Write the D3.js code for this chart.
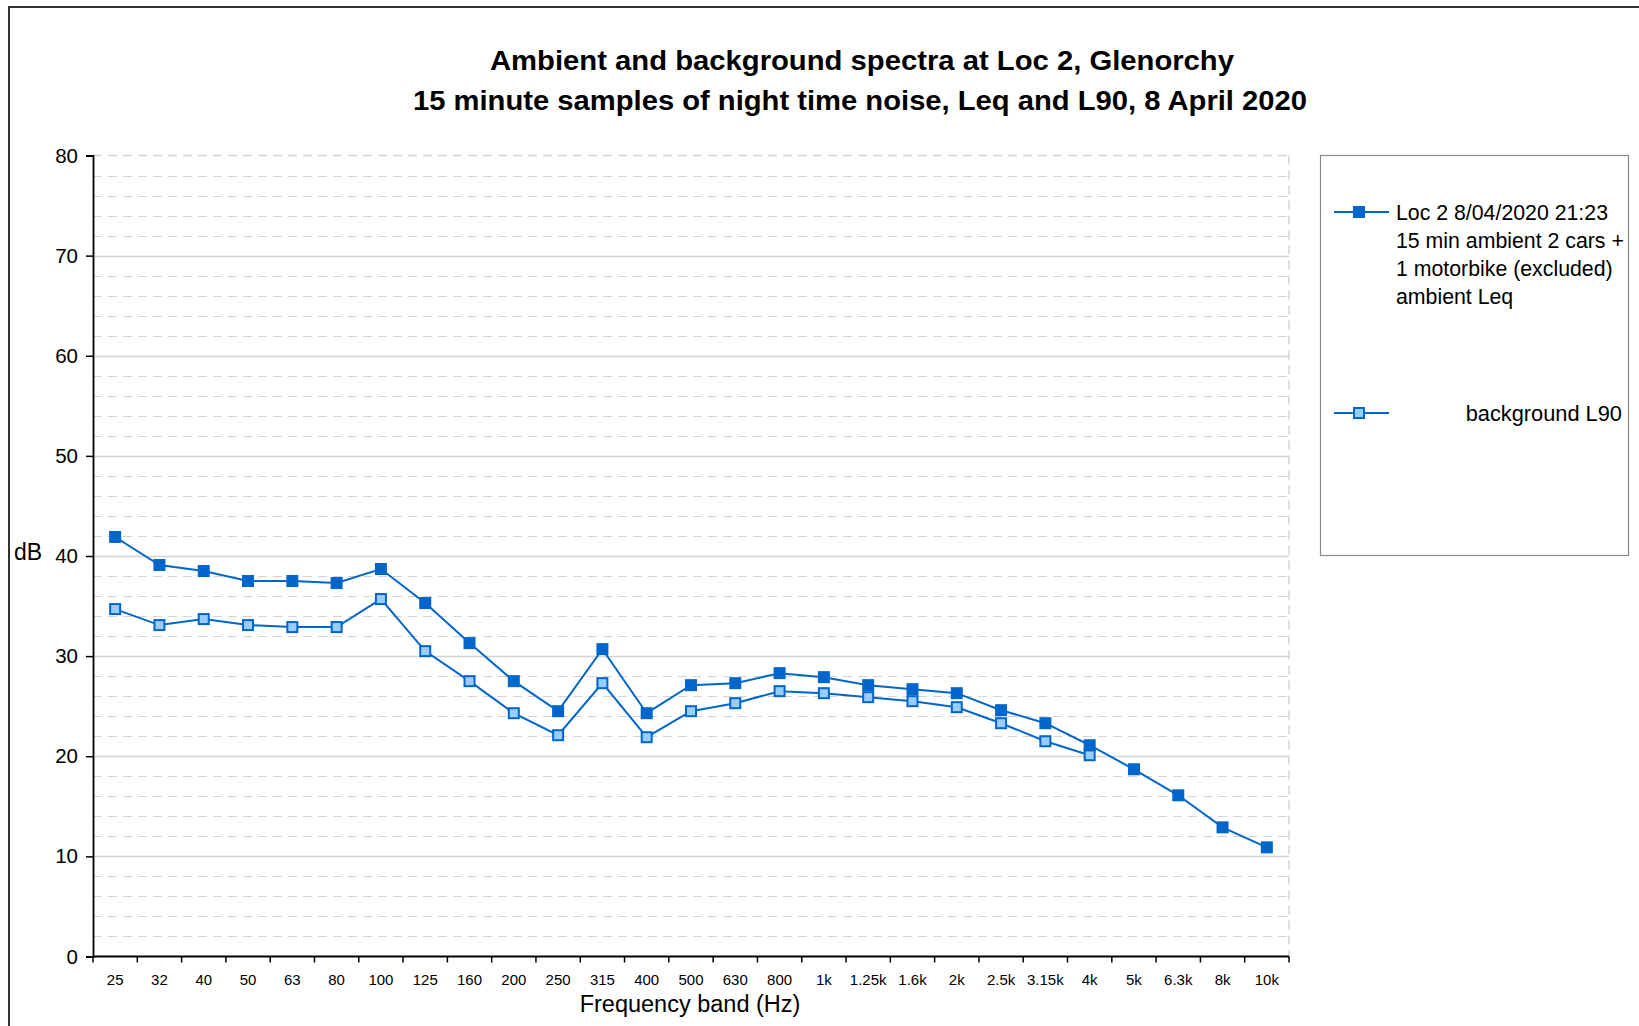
<!DOCTYPE html>
<html>
<head>
<meta charset="utf-8">
<script src="https://cdn.jsdelivr.net/npm/d3@7"></script>
<style>
  html, body { margin: 0; padding: 0; background: #fff; }
  svg { display: block; font-family: "Liberation Sans", Arial, Helvetica, sans-serif; }
</style>
</head>
<body>
<svg id="chart" width="1639" height="1026"></svg>
<script>
// Third-octave frequency bands (Hz)
const bands = ["25","32","40","50","63","80","100","125","160","200","250","315","400","500","630","800","1k","1.25k","1.6k","2k","2.5k","3.15k","4k","5k","6.3k","8k","10k"];

// 15 min ambient Leq, dB
const leq = [41.9, 39.1, 38.5, 37.5, 37.5, 37.3, 38.7, 35.3, 31.3, 27.5, 24.5, 30.7, 24.3, 27.1, 27.3, 28.3, 27.9, 27.1, 26.7, 26.3, 24.6, 23.3, 21.1, 18.7, 16.1, 12.9, 10.9];

// Background L90, dB (no data above 4 kHz)
const l90 = [34.7, 33.1, 33.7, 33.1, 32.9, 32.9, 35.7, 30.5, 27.5, 24.3, 22.1, 27.3, 21.9, 24.5, 25.3, 26.5, 26.3, 25.9, 25.5, 24.9, 23.3, 21.5, 20.1, null, null, null, null];

const yTicks = [0, 10, 20, 30, 40, 50, 60, 70, 80];
const yMinor = d3.range(2, 80, 2).filter(v => v % 10 !== 0);

const titleLines = [
  "Ambient and background spectra at Loc 2, Glenorchy",
  "15 minute samples of night time noise, Leq and L90, 8 April 2020"
];
const leqLabel = ["Loc 2 8/04/2020 21:23", "15 min ambient 2 cars +", "1 motorbike (excluded)", "ambient Leq"];
const l90Label = "background L90";

const blue = "#0066cc";
const lightBlue = "#99ccff";
const gridCol = "#d4d4d4";

const svg = d3.select("#chart");
svg.append("rect").attr("width", 1639).attr("height", 1026).attr("fill", "#fff");

// outer frame
svg.append("path")
  .attr("d", "M9,1026 V7 H1639")
  .attr("fill", "none").attr("stroke", "#333").attr("stroke-width", 2);

const plotL = 93, plotR = 1289, plotT = 155.5, plotB = 956.5;

const x = d3.scaleBand().domain(bands).range([plotL, plotR]).padding(0);
const y = d3.scaleLinear().domain([0, 80]).range([plotB, plotT]);
const cx = d => x(d) + x.bandwidth() / 2;

// gridlines
const grid = svg.append("g");
grid.selectAll("line.minor").data(yMinor).join("line")
  .attr("class", "minor")
  .attr("x1", plotL).attr("x2", plotR)
  .attr("y1", d => Math.round(y(d)) + 0.5).attr("y2", d => Math.round(y(d)) + 0.5)
  .attr("stroke", gridCol).attr("stroke-width", 1.2).attr("stroke-dasharray", "9,6");
grid.selectAll("line.major").data(yTicks.filter(v => v > 0 && v < 80)).join("line")
  .attr("class", "major")
  .attr("x1", plotL).attr("x2", plotR)
  .attr("y1", d => Math.round(y(d)) + 0.5).attr("y2", d => Math.round(y(d)) + 0.5)
  .attr("stroke", gridCol).attr("stroke-width", 1.5);
// dashed top and right edges of the plot area
grid.append("line").attr("x1", plotL).attr("x2", plotR).attr("y1", y(80)).attr("y2", y(80))
  .attr("stroke", gridCol).attr("stroke-width", 1.5).attr("stroke-dasharray", "9,6");
grid.append("line").attr("x1", plotR).attr("x2", plotR).attr("y1", y(80)).attr("y2", plotB)
  .attr("stroke", gridCol).attr("stroke-width", 1.5).attr("stroke-dasharray", "9,6");

// y axis
const yAxis = svg.append("g")
  .attr("transform", `translate(${plotL},0)`)
  .call(d3.axisLeft(y).tickValues(yTicks).tickSize(7).tickPadding(8).tickFormat(d3.format("d")));
yAxis.select(".domain").attr("stroke", "#000").attr("stroke-width", 1.8);
yAxis.selectAll(".tick line").attr("stroke", "#000").attr("stroke-width", 1.5);
yAxis.selectAll(".tick text").attr("font-size", 20.5).attr("fill", "#000")
  .attr("font-family", "Liberation Sans, Arial, sans-serif");

// x axis: ticks on band boundaries, labels centred in each band
const xAxis = svg.append("g").attr("transform", `translate(0,${plotB})`);
xAxis.append("line").attr("x1", plotL).attr("x2", plotR).attr("stroke", "#000").attr("stroke-width", 1.8);
const bounds = bands.map(b => x(b)).concat([plotR]);
xAxis.selectAll("line.tick").data(bounds).join("line")
  .attr("class", "tick")
  .attr("x1", d => d).attr("x2", d => d).attr("y1", 0).attr("y2", 6)
  .attr("stroke", "#000").attr("stroke-width", 1.5);
xAxis.selectAll("text").data(bands).join("text")
  .attr("x", d => cx(d)).attr("y", 28)
  .attr("text-anchor", "middle").attr("font-size", 15).attr("fill", "#000")
  .text(d => d);

// axis titles
svg.append("text").attr("x", 690).attr("y", 1012).attr("text-anchor", "middle")
  .attr("font-size", 23.5).attr("fill", "#000").text("Frequency band (Hz)");
svg.append("text").attr("x", 14).attr("y", 560)
  .attr("font-size", 23).attr("fill", "#000").text("dB");

// title
svg.append("text").attr("x", 862).attr("y", 70).attr("text-anchor", "middle")
  .attr("font-size", 27).attr("font-weight", "bold").attr("fill", "#000")
  .attr("textLength", 744).attr("lengthAdjust", "spacingAndGlyphs").text(titleLines[0]);
svg.append("text").attr("x", 860).attr("y", 110).attr("text-anchor", "middle")
  .attr("font-size", 27).attr("font-weight", "bold").attr("fill", "#000")
  .attr("textLength", 894).attr("lengthAdjust", "spacingAndGlyphs").text(titleLines[1]);

// series lines
const line = d3.line()
  .defined(d => d.v != null)
  .x(d => cx(d.b)).y(d => y(d.v));
const leqPts = bands.map((b, i) => ({ b, v: leq[i] }));
const l90Pts = bands.map((b, i) => ({ b, v: l90[i] })).filter(d => d.v != null);

svg.append("path").datum(l90Pts).attr("d", line)
  .attr("fill", "none").attr("stroke", blue).attr("stroke-width", 2);
svg.append("path").datum(leqPts).attr("d", line)
  .attr("fill", "none").attr("stroke", blue).attr("stroke-width", 2);

// markers
const ms = 12;
svg.append("g").selectAll("rect").data(l90Pts).join("rect")
  .attr("x", d => cx(d.b) - (ms - 2) / 2).attr("y", d => y(d.v) - (ms - 2) / 2)
  .attr("width", ms - 2).attr("height", ms - 2)
  .attr("fill", lightBlue).attr("stroke", blue).attr("stroke-width", 2);
svg.append("g").selectAll("rect").data(leqPts).join("rect")
  .attr("x", d => cx(d.b) - ms / 2).attr("y", d => y(d.v) - ms / 2)
  .attr("width", ms).attr("height", ms)
  .attr("fill", blue);

// legend
const lg = svg.append("g");
lg.append("rect").attr("x", 1320.5).attr("y", 155.5).attr("width", 308).attr("height", 400)
  .attr("fill", "#fff").attr("stroke", "#888").attr("stroke-width", 1.2);
lg.append("line").attr("x1", 1334).attr("x2", 1389).attr("y1", 212).attr("y2", 212)
  .attr("stroke", blue).attr("stroke-width", 2);
lg.append("rect").attr("x", 1359 - ms / 2).attr("y", 212 - ms / 2).attr("width", ms).attr("height", ms)
  .attr("fill", blue);
lg.selectAll("text.leq").data(leqLabel).join("text")
  .attr("class", "leq")
  .attr("x", 1396).attr("y", (d, i) => 219.5 + i * 28)
  .attr("font-size", 21.3).attr("fill", "#000").text(d => d);
lg.append("line").attr("x1", 1334).attr("x2", 1389).attr("y1", 413).attr("y2", 413)
  .attr("stroke", blue).attr("stroke-width", 2);
lg.append("rect").attr("x", 1359 - (ms - 2) / 2).attr("y", 413 - (ms - 2) / 2)
  .attr("width", ms - 2).attr("height", ms - 2)
  .attr("fill", lightBlue).attr("stroke", blue).attr("stroke-width", 2);
lg.append("text").attr("x", 1622).attr("y", 420.5).attr("text-anchor", "end")
  .attr("font-size", 21.8).attr("fill", "#000").text(l90Label);
</script>
</body>
</html>
